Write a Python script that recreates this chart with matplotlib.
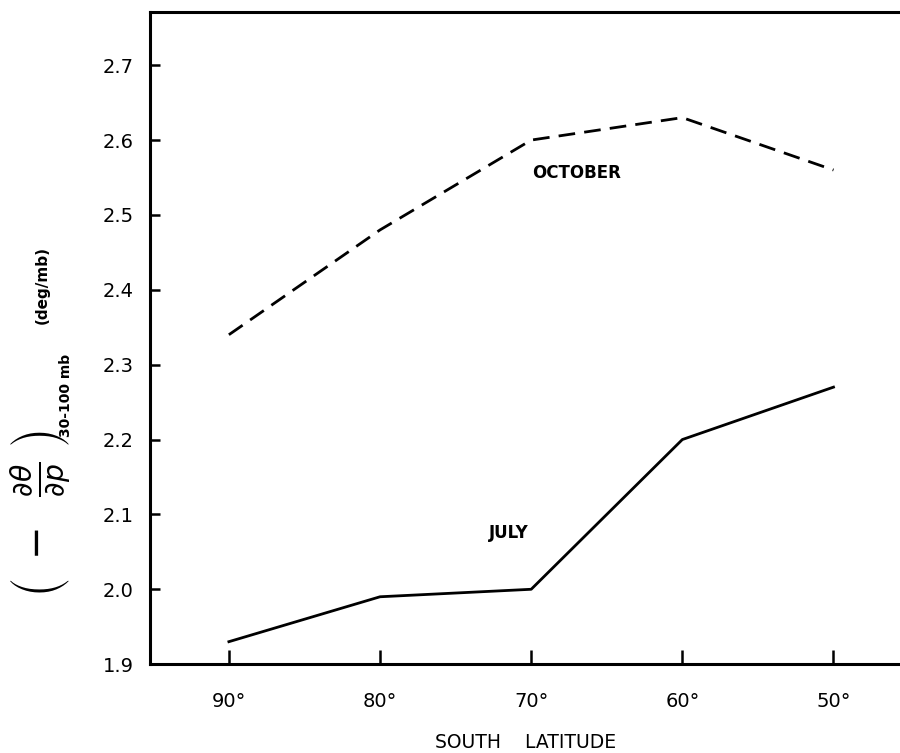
import matplotlib
matplotlib.use("Agg")
import matplotlib.pyplot as plt

# Static stability, 30-100 mb layer, vs south latitude
latitude = [90, 80, 70, 60, 50]
october = [2.34, 2.48, 2.60, 2.63, 2.56]
july = [1.93, 1.99, 2.00, 2.20, 2.27]
yticks = [1.9, 2.0, 2.1, 2.2, 2.3, 2.4, 2.5, 2.6, 2.7]

fig = plt.figure(figsize=(9, 7.53), dpi=100)
ax = fig.add_axes([0.167, 0.118, 0.833, 0.866])

ax.plot(latitude, october, color="black", lw=2.0, dashes=(6, 3.3))
ax.plot(latitude, july, color="black", lw=2.0)

ax.set_xlim(95.2, 45.6)
ax.set_ylim(1.9, 2.771)

ax.set_xticks(latitude)
ax.set_xticklabels([f"{v}\u00b0" for v in latitude])
ax.set_yticks(yticks)
ax.set_yticklabels([f"{v:.1f}" for v in yticks])

ax.tick_params(axis="y", direction="in", length=7, width=1.8, labelsize=14, pad=12)
ax.tick_params(axis="x", direction="in", length=10, width=1.8, labelsize=14, pad=20)

for side in ("left", "bottom", "top"):
    ax.spines[side].set_linewidth(2.2)
ax.spines["right"].set_visible(False)

ax.text(67.0, 2.556, "OCTOBER", ha="center", va="center",
        fontsize=12, fontweight="bold")
ax.text(71.45, 2.075, "JULY", ha="center", va="center",
        fontsize=12, fontweight="bold")

ax.set_xlabel("SOUTH    LATITUDE", fontsize=13.5, labelpad=16)

# y-axis label: lapse of potential temperature with pressure, plus units
fig.text(0.045, 0.318,
         r"$\left(\;-\;\;\frac{\partial\theta}{\partial p}\;\right)$",
         rotation=90, ha="center", va="center", fontsize=29)
fig.text(0.073, 0.475, "30-100 mb", rotation=90, ha="center", va="center",
         fontsize=10, fontweight="bold")
fig.text(0.047, 0.622, "(deg/mb)", rotation=90, ha="center", va="center",
         fontsize=11, fontweight="bold")

fig.savefig("out.png", dpi=100)
